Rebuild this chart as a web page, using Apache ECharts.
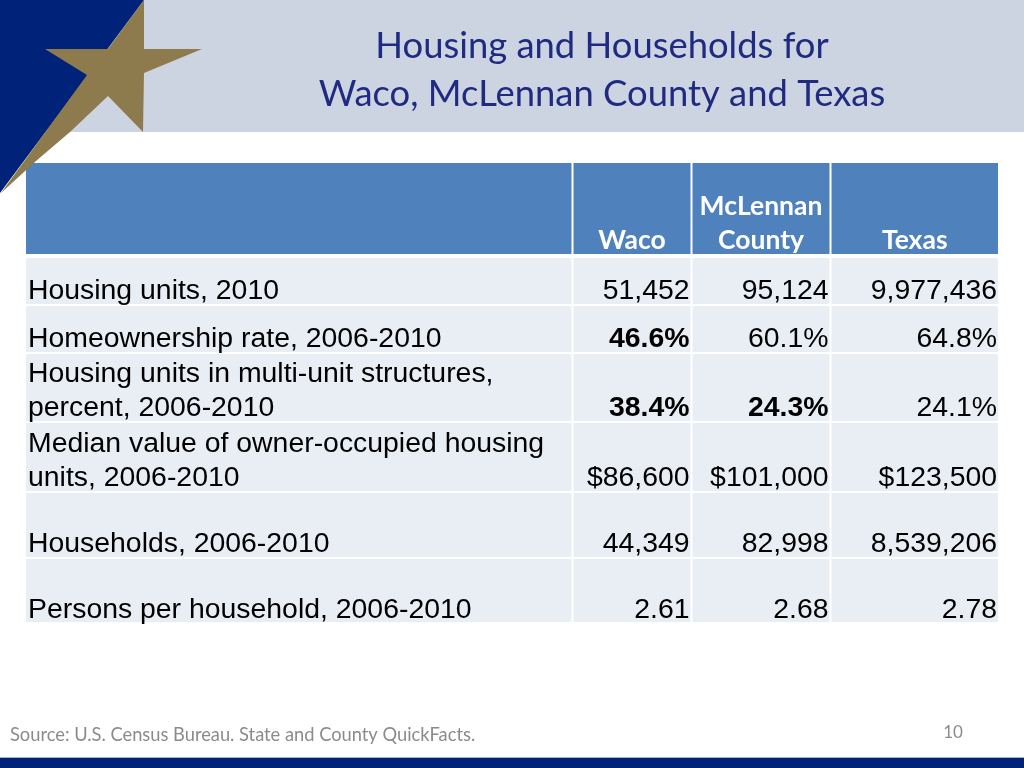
<!DOCTYPE html>
<html><head><meta charset="utf-8">
<style>html,body{margin:0;padding:0;background:#fff}#c{width:1024px;height:768px}</style>
<script src="https://cdn.jsdelivr.net/npm/echarts@6/dist/echarts.min.js"></script>
</head><body><div id="c"></div>
<script>
var titleLines = ['Housing and Households for', 'Waco, McLennan County and Texas'];
var sourceText = 'Source: U.S. Census Bureau. State and County QuickFacts.';
var pageNumber = '10';
var columnHeads = ['', 'Waco', 'McLennan\nCounty', 'Texas'];
var rowLabels = ['Housing units, 2010', 'Homeownership rate, 2006-2010',
  'Housing units in multi-unit structures,\npercent, 2006-2010',
  'Median value of owner-occupied housing\nunits, 2006-2010',
  'Households, 2006-2010', 'Persons per household, 2006-2010'];
var waco = ['51,452', '46.6%', '38.4%', '$86,600', '44,349', '2.61'];
var mclennan = ['95,124', '60.1%', '24.3%', '$101,000', '82,998', '2.68'];
var texas = ['9,977,436', '64.8%', '24.1%', '$123,500', '8,539,206', '2.78'];
var boldCells = ['2-1', '3-1', '3-2'];

var colEdges = [[26,571.5],[573.5,690.5],[692.5,829.5],[831.5,998]];
var rowEdges = [[163,254],[258,304],[306,352],[354,421],[423,491],[493,557],[559,622]];
var textBottom = [257,308,356,425,495,561,627];

var cells = [];
columnHeads.forEach(function(t,c){ cells.push([c,0,t]); });
rowLabels.forEach(function(t,r){
  cells.push([0,r+1,t]);
  cells.push([1,r+1,waco[r]]);
  cells.push([2,r+1,mclennan[r]]);
  cells.push([3,r+1,texas[r]]);
});

function renderCell(params, api){
  var c = api.value(0), r = api.value(1), t = cells[params.dataIndex][2];
  var a = api.coord([colEdges[c][0], rowEdges[r][0]]);
  var b = api.coord([colEdges[c][1], rowEdges[r][1]]);
  var head = r === 0;
  var bold = boldCells.indexOf(r + '-' + c) >= 0;
  var children = [{type:'rect', shape:{x:a[0],y:a[1],width:b[0]-a[0],height:b[1]-a[1]},
    style:{fill: head ? '#4F81BD' : '#E9EDF4'}}];
  if (t) children.push({type:'text', style:{
    text:t,
    x: head ? (a[0]+b[0])/2 : (c===0 ? a[0]+2 : b[0]-1),
    y: textBottom[r],
    align: head ? 'center' : (c===0 ? 'left' : 'right'),
    verticalAlign:'bottom',
    lineHeight: 34,
    fontFamily: head ? 'Lato' : '"Liberation Sans"',
    fontWeight: head || bold ? 'bold' : 'normal',
    fontSize: head ? 26.5 : 28.4,
    fill: head ? '#ffffff' : '#000000'
  }});
  return {type:'group', children:children};
}

var chart = echarts.init(document.getElementById('c'), null, {renderer:'canvas'});
chart.setOption({
  animation:false,
  backgroundColor:'#ffffff',
  grid:{left:0,right:0,top:0,bottom:0},
  xAxis:{type:'value',min:0,max:1024,show:false},
  yAxis:{type:'value',min:0,max:768,inverse:true,show:false},
  graphic:[
    {type:'rect',z:1,shape:{x:0,y:0,width:1024,height:132},style:{fill:'#CDD4E1'}},
    {type:'polygon',z:2,shape:{points:[[0,0],[144,0],[0,193]]},style:{fill:'#002379'}},
    {type:'polygon',z:3,shape:{points:[[144,0],[144,49],[202,49],[144,73],[143,132],[108,96],[70,132],[36,161],[24,172],[1,193],[87,75],[45,49],[108,49]]},style:{fill:'#8E7B4D'}},
    {type:'rect',z:1,shape:{x:0,y:757,width:1024,height:1},style:{fill:'#9FB0CF'}},
    {type:'rect',z:1,shape:{x:0,y:758,width:1024,height:10},style:{fill:'#002379'}},
    {type:'text',z:4,style:{text:titleLines[0],x:602,y:46,align:'center',verticalAlign:'middle',fontFamily:'Lato',fontSize:36.4,fill:'#1F2A80'}},
    {type:'text',z:4,style:{text:titleLines[1],x:602,y:94,align:'center',verticalAlign:'middle',fontFamily:'Lato',fontSize:36.4,fill:'#1F2A80'}},
    {type:'text',z:4,style:{text:sourceText,x:10,y:735,align:'left',verticalAlign:'middle',fontFamily:'Lato',fontSize:18.3,fill:'#8B8B8B'}},
    {type:'text',z:4,style:{text:pageNumber,x:953,y:733,align:'center',verticalAlign:'middle',fontFamily:'Lato',fontSize:17,fill:'#8B8B8B'}}
  ],
  series:[{type:'custom',coordinateSystem:'cartesian2d',silent:true,clip:false,
    encode:{x:0,y:1},
    data:cells.map(function(d){return [d[0],d[1]];}),
    renderItem:renderCell}]
});
</script></body></html>
